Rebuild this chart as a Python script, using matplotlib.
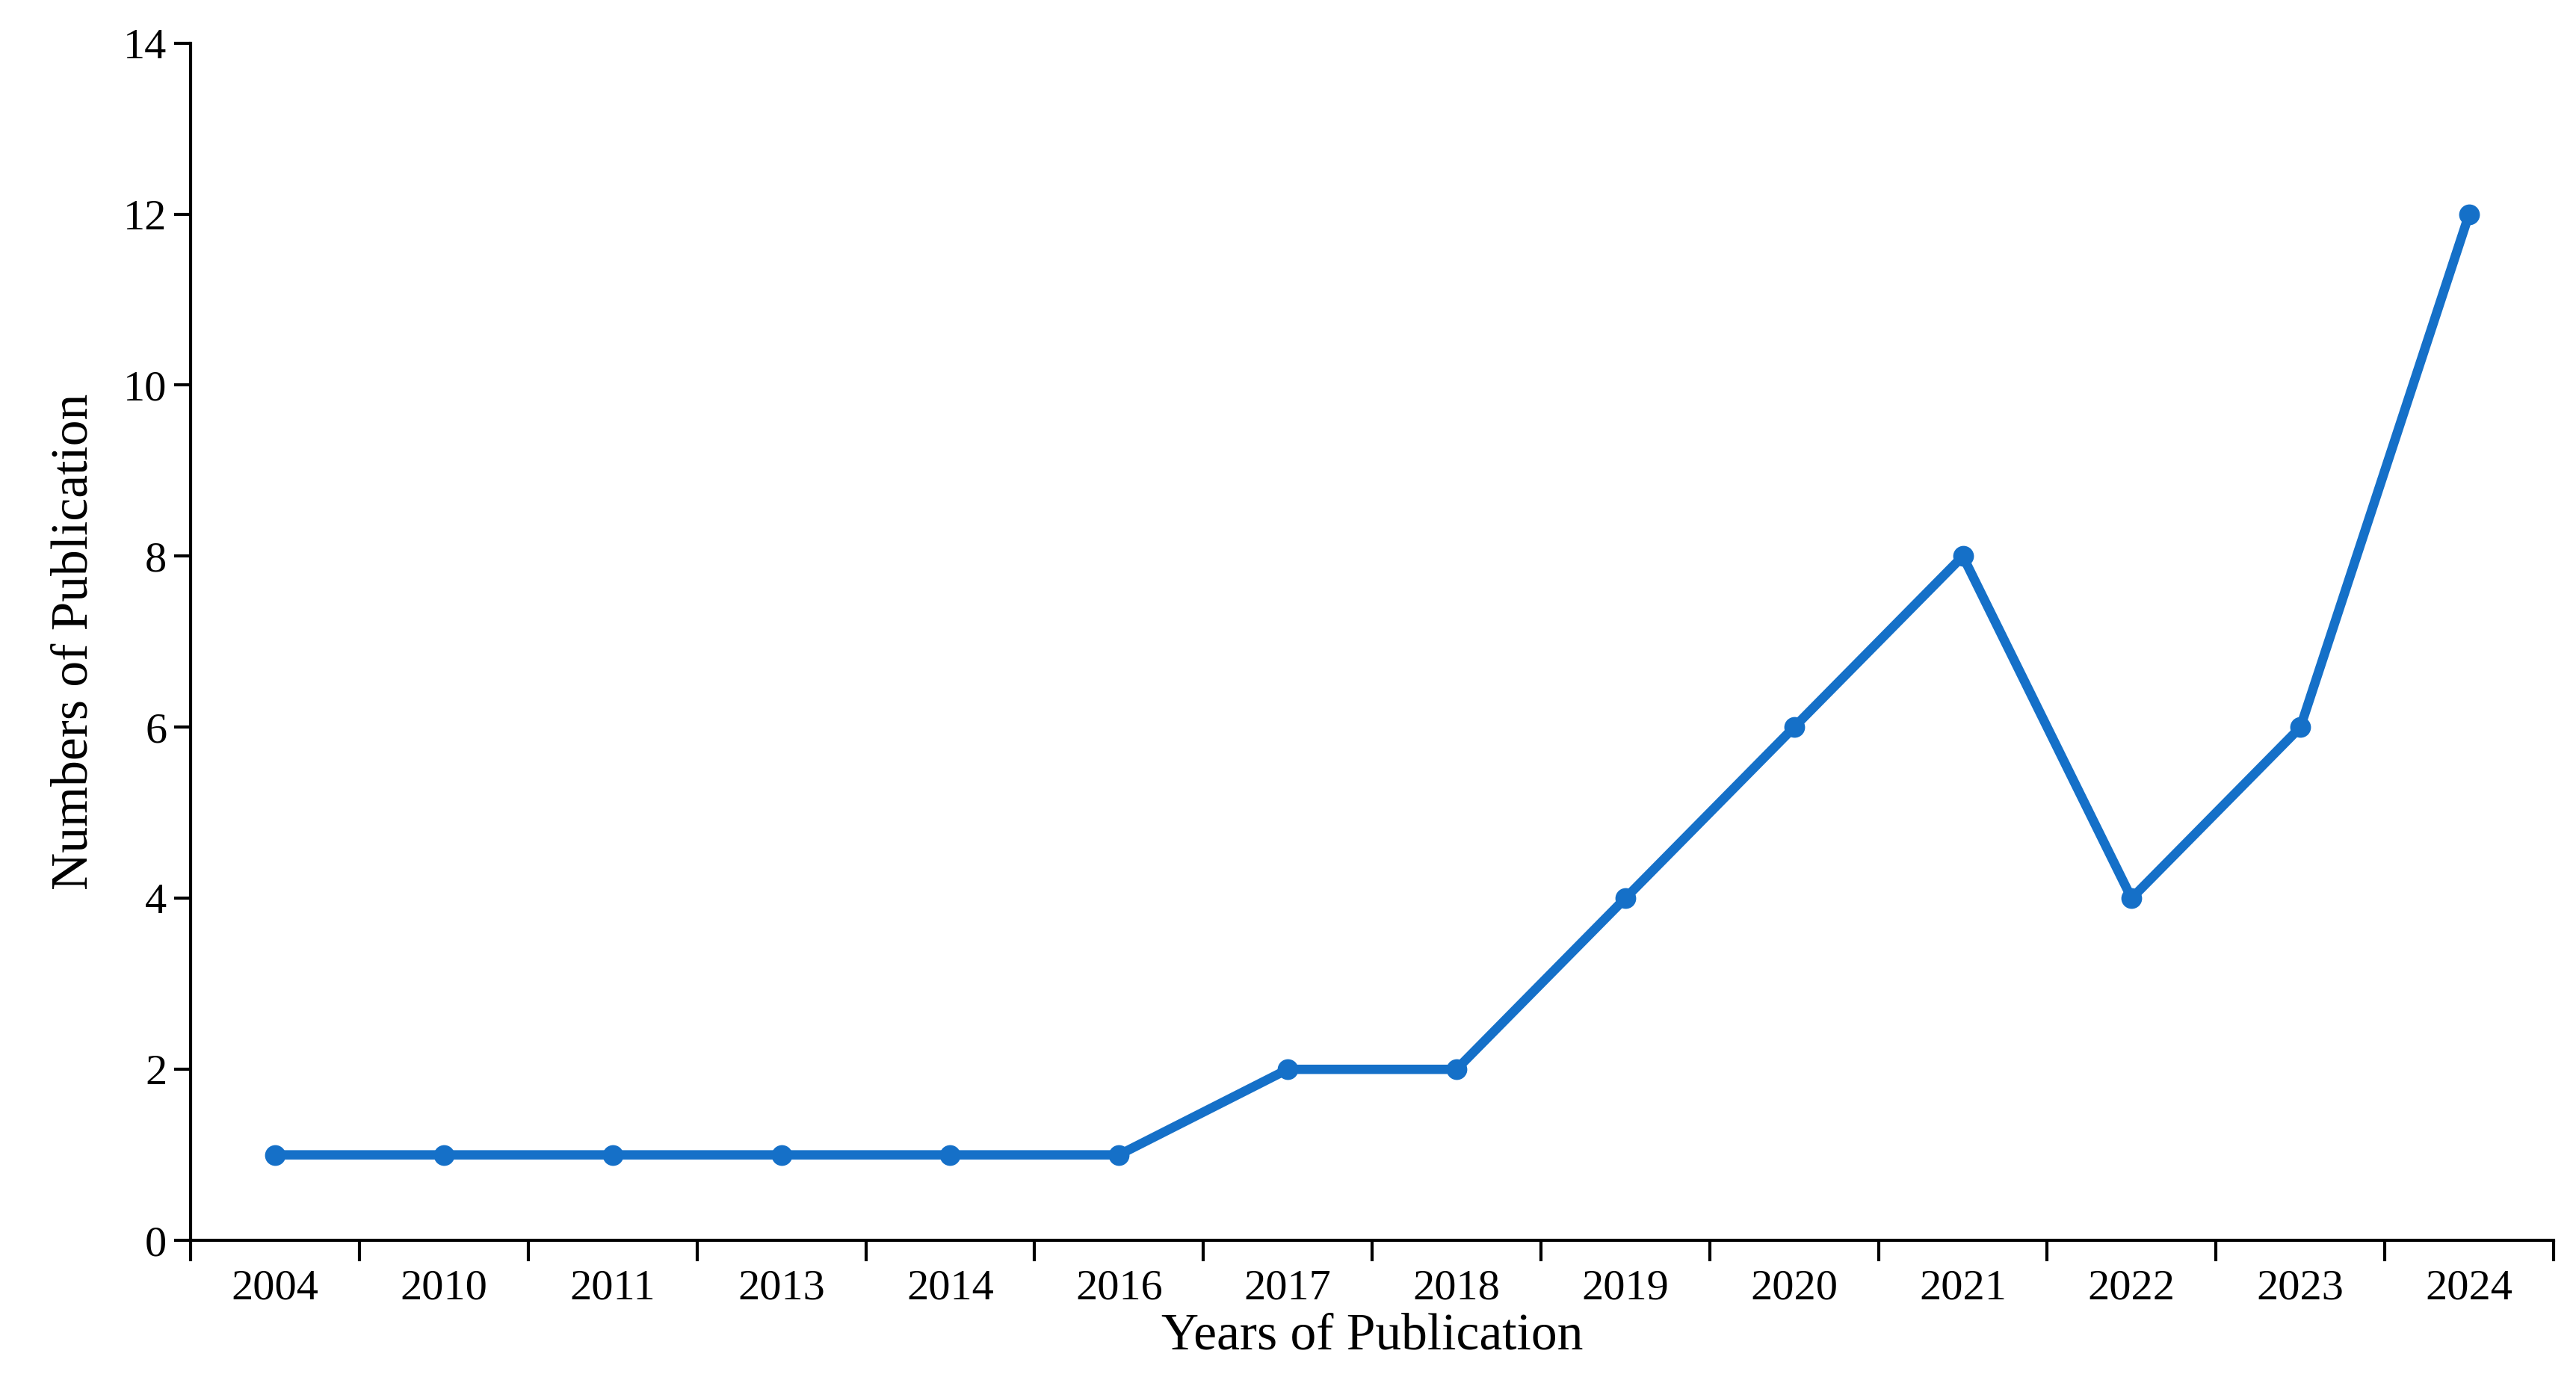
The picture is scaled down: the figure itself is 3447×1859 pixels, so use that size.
import matplotlib.pyplot as plt
import numpy as np

years = ["2004", "2010", "2011", "2013", "2014", "2016", "2017",
         "2018", "2019", "2020", "2021", "2022", "2023", "2024"]
counts = [1, 1, 1, 1, 1, 1, 2, 2, 4, 6, 8, 4, 6, 12]

plt.rcParams["font.family"] = ["Liberation Serif", "DejaVu Serif"]

fig = plt.figure(figsize=(17.24, 9.295), dpi=200)
ax = fig.add_axes([0.074, 0.107, 0.917, 0.862])

x = np.arange(len(years))
ax.plot(x, counts, color="#1570C8", linewidth=4.5, marker="o", markersize=9)

ax.set_xlim(-0.5, len(years) - 0.5)
ax.set_ylim(0, 14)
ax.set_yticks(range(0, 15, 2))

# category boundaries as tick marks, labels centred on categories
ax.set_xticks(np.arange(-0.5, len(years)), labels=[""] * (len(years) + 1))
ax.set_xticks(x, labels=years, minor=True)
ax.tick_params(axis="x", which="major", length=10, width=1.5, direction="out")
ax.tick_params(axis="x", which="minor", length=0, pad=14, labelsize=21)
ax.tick_params(axis="y", length=8, width=1.5, labelsize=21)

for s in ["top", "right"]:
    ax.spines[s].set_visible(False)
for s in ["left", "bottom"]:
    ax.spines[s].set_linewidth(1.5)

ax.set_xlabel("Years of Publication", fontsize=25, labelpad=2)
ax.set_ylabel("Numbers of Publication", fontsize=25, labelpad=12)

fig.savefig("out.png", dpi=200)
